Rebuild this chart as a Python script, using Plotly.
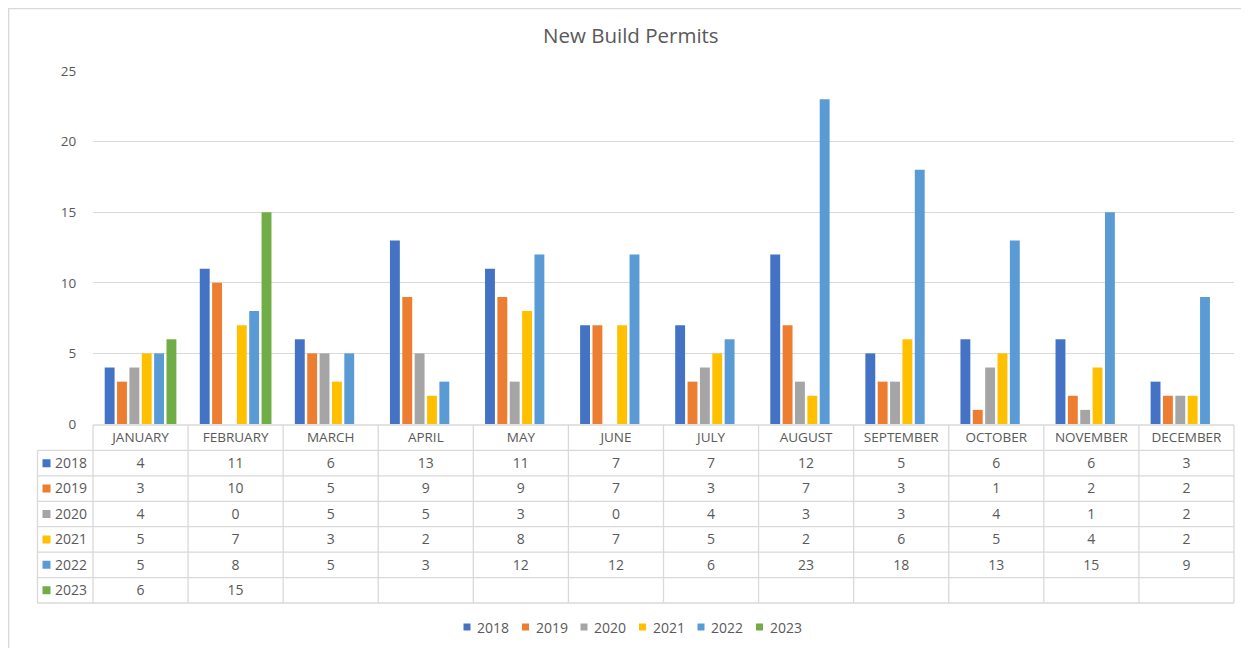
import plotly.graph_objects as go

# ---------------- data ----------------
months = ["JANUARY", "FEBRUARY", "MARCH", "APRIL", "MAY", "JUNE", "JULY",
          "AUGUST", "SEPTEMBER", "OCTOBER", "NOVEMBER", "DECEMBER"]
years = ["2018", "2019", "2020", "2021", "2022", "2023"]
v2018 = [4, 11, 6, 13, 11, 7, 7, 12, 5, 6, 6, 3]
v2019 = [3, 10, 5, 9, 9, 7, 3, 7, 3, 1, 2, 2]
v2020 = [4, 0, 5, 5, 3, 0, 4, 3, 3, 4, 1, 2]
v2021 = [5, 7, 3, 2, 8, 7, 5, 2, 6, 5, 4, 2]
v2022 = [5, 8, 5, 3, 12, 12, 6, 23, 18, 13, 15, 9]
v2023 = [6, 15, None, None, None, None, None, None, None, None, None, None]
series = [v2018, v2019, v2020, v2021, v2022, v2023]
colors = ["#4472C4", "#ED7D31", "#A5A5A5", "#FFC000", "#5B9BD5", "#70AD47"]

# ---------------- layout geometry ----------------
OFF = 8                      # page body margin of the html page
W, H = 1249 - OFF, 648 - OFF  # figure size so it fits the window
FONT = "'Open Sans', 'Noto Sans', sans-serif"
TXT = "#595959"
GRID = "#D9D9D9"

plot_l, plot_r = 93, 1234
plot_top, plot_bot = 71, 424
cat_w = (plot_r - plot_l) / 12.0
tab_l = 37.5
tab_top, tab_bot = 425, 603
n_rows = 7
row_h = (tab_bot - tab_top) / n_rows
pad = 3


def px_x(p):
    return (p - OFF) / W


def px_y(p):
    return 1 - (p - OFF) / H


fig = go.Figure()

# bars
for name, vals, col in zip(years, series, colors):
    fig.add_trace(go.Bar(x=months, y=vals, name=name, marker_color=col,
                         marker_line_width=0, showlegend=False,
                         xaxis="x", yaxis="y", hoverinfo="x+y+name"))

# ---------------- data table (subplot x2/y2) ----------------
left_units = (plot_l - tab_l) / cat_w
x2_lo = -0.5 - left_units
x2_hi = 11.5
# header labels
fig.add_trace(go.Scatter(x=list(range(12)), y=[0.52] * 12, text=months,
                         mode="text", textfont=dict(family=FONT, size=13.5, color=TXT),
                         xaxis="x2", yaxis="y2", showlegend=False, hoverinfo="skip"))
# values
for r, vals in enumerate(series):
    xs, ys, ts = [], [], []
    for i, v in enumerate(vals):
        if v is not None:
            xs.append(i)
            ys.append(r + 1.55)
            ts.append(str(v))
    fig.add_trace(go.Scatter(x=xs, y=ys, text=ts, mode="text",
                             textfont=dict(family=FONT, size=14, color=TXT),
                             xaxis="x2", yaxis="y2", showlegend=False, hoverinfo="skip"))
# row keys (swatch + year)
key_x = -0.5 - (plot_l - 46.5) / cat_w
key_tx = -0.5 - (plot_l - 55) / cat_w
fig.add_trace(go.Scatter(x=[key_x] * len(years), y=[r + 1.5 for r in range(len(years))],
                         mode="markers",
                         marker=dict(symbol="square", size=8, color=colors, line_width=0),
                         xaxis="x2", yaxis="y2", showlegend=False, hoverinfo="skip"))
fig.add_trace(go.Scatter(x=[key_tx] * len(years), y=[r + 1.55 for r in range(len(years))],
                         text=years, mode="text", textposition="middle right",
                         textfont=dict(family=FONT, size=14, color=TXT),
                         xaxis="x2", yaxis="y2", showlegend=False, hoverinfo="skip"))

shapes = []
lw = 1.3
# horizontal lines
for k in range(n_rows + 1):
    x0 = -0.5 if k == 0 else x2_lo
    shapes.append(dict(type="line", xref="x2", yref="y2", x0=x0, x1=x2_hi, y0=k, y1=k,
                       line=dict(color=GRID, width=lw)))
# vertical lines
for k in range(13):
    shapes.append(dict(type="line", xref="x2", yref="y2", x0=-0.5 + k, x1=-0.5 + k, y0=0, y1=n_rows,
                       line=dict(color=GRID, width=lw)))
shapes.append(dict(type="line", xref="x2", yref="y2", x0=x2_lo, x1=x2_lo, y0=1, y1=n_rows,
                   line=dict(color=GRID, width=lw)))

# outer chart border (left and top edges visible)
shapes.append(dict(type="rect", xref="paper", yref="paper", x0=0.7 / W, x1=1.01, y0=-0.01, y1=1 - 0.7 / H,
                   line=dict(color=GRID, width=1.3), fillcolor="rgba(0,0,0,0)", layer="below"))

# ---------------- bottom legend ----------------
annotations = []
leg_y = 627
leg_x0 = 467
leg_step = 58.5
for j, (name, col) in enumerate(zip(years, colors)):
    cx = leg_x0 + j * leg_step
    shapes.append(dict(type="rect", xref="paper", yref="paper",
                       x0=px_x(cx - 3.5), x1=px_x(cx + 3.5), y0=px_y(leg_y + 3.5), y1=px_y(leg_y - 3.5),
                       fillcolor=col, line_width=0))
    annotations.append(dict(xref="paper", yref="paper", x=px_x(cx + 8), y=px_y(leg_y),
                            xanchor="left", yanchor="middle", text=name, showarrow=False,
                            font=dict(family=FONT, size=14, color=TXT)))

# title
annotations.append(dict(xref="paper", yref="paper", x=px_x(631), y=px_y(35),
                        xanchor="center", yanchor="middle", text="New Build Permits",
                        showarrow=False, font=dict(family=FONT, size=20.5, color=TXT)))

fig.update_layout(
    width=W, height=H,
    margin=dict(l=0, r=0, t=0, b=0, pad=0, autoexpand=False),
    paper_bgcolor="white", plot_bgcolor="rgba(0,0,0,0)",
    barmode="group", bargap=0.22, bargroupgap=0.2,
    font=dict(family=FONT, color=TXT),
    showlegend=False,
    xaxis=dict(domain=[px_x(plot_l), px_x(plot_r)], type="category",
               categoryorder="array", categoryarray=months,
               range=[-0.5, 11.5], showticklabels=False, showgrid=False,
               zeroline=False, showline=False, fixedrange=True, automargin=False),
    yaxis=dict(domain=[px_y(plot_bot), px_y(plot_top)], range=[0, 25], dtick=5,
               showgrid=True, gridcolor=GRID, gridwidth=1.3, zeroline=False,
               showline=False, ticks="outside", ticklen=13, tickcolor="rgba(0,0,0,0)",
               tickfont=dict(family=FONT, size=13.5, color=TXT), fixedrange=True,
               automargin=False),
    xaxis2=dict(domain=[px_x(tab_l - pad), px_x(plot_r + pad)],
                range=[x2_lo - pad / cat_w, x2_hi + pad / cat_w],
                visible=False, fixedrange=True, automargin=False),
    yaxis2=dict(domain=[px_y(tab_bot + pad), px_y(tab_top - pad)],
                range=[n_rows + pad / row_h, -pad / row_h],
                visible=False, fixedrange=True, automargin=False),
    shapes=shapes,
    annotations=annotations,
)

fig.write_html("out.html")
